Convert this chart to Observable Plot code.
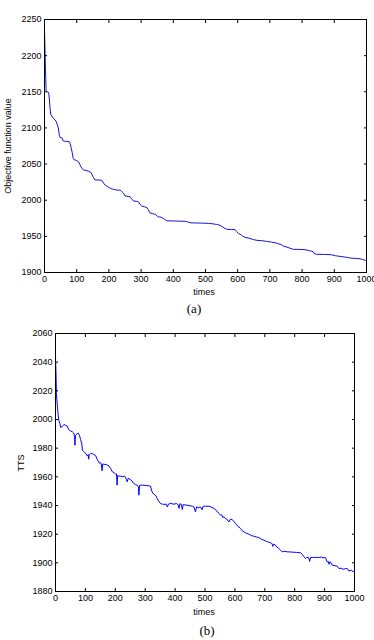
<!DOCTYPE html>
<html>
<head>
<meta charset="utf-8">
<script src="https://cdn.jsdelivr.net/npm/d3@7"></script>
<script src="https://cdn.jsdelivr.net/npm/@observablehq/plot@0.6"></script>
<style>
  html, body { margin: 0; padding: 0; background: #fff; }
  #page { position: relative; width: 374px; height: 640px; overflow: hidden; background: #fff; font-family: "Liberation Sans", Arial, sans-serif; }
  .chart { position: absolute; left: 0; }
  .lbl { position: absolute; font-size: 9px; color: #000; white-space: nowrap; transform: translate(-50%, -50%); }
  .ylbl { position: absolute; font-size: 9px; color: #000; white-space: nowrap; transform: translate(-50%, -50%) rotate(-90deg); }
  .cap { position: absolute; font-family: "Liberation Serif", "Times New Roman", serif; font-size: 13px; color: #000; transform: translate(-50%, -50%); }
</style>
</head>
<body>
<div id="page">
  <div class="chart" id="chartA" style="top:0px"></div>
  <div class="chart" id="chartB" style="top:314px"></div>
  <div class="ylbl" style="left:8px; top:146px">Objective function value</div>
  <div class="lbl" style="left:204px; top:292px">times</div>
  <div class="cap" style="left:194px; top:309px">(a)</div>
  <div class="ylbl" style="left:21px; top:463px">TTS</div>
  <div class="lbl" style="left:204px; top:612px">times</div>
  <div class="cap" style="left:207px; top:631px">(b)</div>
</div>
<script>
// ---- Data ----
const xTicks = [0, 100, 200, 300, 400, 500, 600, 700, 800, 900, 1000];
const objTicks = [1900, 1950, 2000, 2050, 2100, 2150, 2200, 2250];
const ttsTicks = [1880, 1900, 1920, 1940, 1960, 1980, 2000, 2020, 2040, 2060];

// (a) Objective function value vs times
const objT = [0, 2, 3, 5, 8, 13, 15, 17, 20, 25, 28, 33, 36, 40, 43, 46, 48, 55, 58, 65, 77, 80, 83, 86, 89, 92, 100, 106, 110, 116, 121, 135, 145, 150, 157, 170, 178, 183, 188, 195, 205, 214, 225, 235, 240, 245, 250, 262, 266, 272, 276, 285, 292, 297, 302, 310, 318, 322, 328, 335, 344, 350, 354, 362, 370, 376, 380, 400, 420, 437, 445, 452, 470, 490, 509, 520, 535, 545, 552, 558, 566, 580, 592, 597, 602, 610, 615, 623, 635, 649, 660, 675, 690, 705, 721, 728, 735, 742, 750, 760, 773, 790, 809, 820, 830, 835, 838, 845, 870, 892, 903, 915, 934, 945, 949, 965, 980, 988, 996, 1000];
const objV = [2236, 2200, 2182, 2152, 2150, 2149, 2140, 2128, 2118, 2115, 2113, 2111, 2109, 2104, 2100, 2090, 2087, 2086, 2082, 2081.5, 2081, 2078, 2072, 2066, 2058, 2056, 2055, 2053, 2049, 2044, 2042, 2040.5, 2038, 2033, 2028, 2028, 2027.5, 2024, 2021, 2019, 2016.5, 2015, 2014, 2013.9, 2012, 2010, 2006, 2005, 2004.6, 2001, 1999, 1998.5, 1997.7, 1994, 1992, 1991, 1989.8, 1987, 1982.4, 1981.5, 1980.6, 1978, 1977, 1976.5, 1974.5, 1972.5, 1971.5, 1971.3, 1971, 1970.8, 1970, 1968.8, 1968.5, 1968.3, 1968, 1967.5, 1966.5, 1965.3, 1963.5, 1961.5, 1959.8, 1959.5, 1959.3, 1956.5, 1954, 1952.5, 1950.5, 1948.5, 1947.5, 1945.5, 1944.5, 1944, 1943, 1942, 1940.7, 1939.5, 1938.5, 1936.5, 1935.5, 1934, 1932, 1932, 1931.5, 1930.5, 1929.5, 1928.5, 1926, 1925.2, 1925, 1924.5, 1923.2, 1922.5, 1921.3, 1920.5, 1920, 1919.5, 1919, 1918, 1916.8, 1916.5];

// (b) TTS vs times
const ttsT = [0, 2, 3, 6, 8, 11, 15, 17, 22, 28, 33, 39, 44, 50, 56, 61, 64, 65, 67, 72, 76, 80, 84, 88, 90, 95, 100, 106, 109, 111, 113, 117, 125, 130, 134, 139, 143, 147, 150, 153, 156, 158, 162, 170, 178, 184, 190, 195, 201, 204, 206, 208, 212, 217, 225, 230, 234, 237, 240, 243, 251, 256, 262, 268, 273, 277, 279, 281, 290, 300, 310, 318, 320, 323, 328, 334, 338, 340, 345, 351, 357, 362, 370, 374, 378, 385, 396, 405, 410, 413, 416, 421, 424, 427, 430, 440, 450, 458, 463, 468, 472, 478, 485, 490, 494, 502, 513, 520, 530, 536, 541, 547, 552, 556, 560, 563, 568, 574, 580, 585, 591, 596, 602, 610, 619, 624, 630, 635, 640, 647, 655, 663, 672, 680, 688, 697, 705, 712, 719, 724, 727, 730, 736, 740, 744, 747, 752, 758, 765, 775, 790, 805, 820, 825, 830, 836, 840, 847, 850, 853, 859, 870, 880, 890, 895, 903, 906, 909, 912, 915, 918, 920, 925, 935, 942, 948, 955, 962, 970, 976, 981, 990, 995, 1000];
const ttsV = [2044, 2030, 2018, 2010, 2005, 1999.5, 1997, 1994.5, 1995, 1996.5, 1996, 1995.5, 1993, 1992, 1991.5, 1990.5, 1988, 1982, 1989, 1990, 1990.5, 1989, 1986, 1983, 1978.5, 1977.7, 1976.5, 1974.7, 1975.5, 1972.3, 1975.5, 1976.3, 1976, 1975.3, 1975, 1972.3, 1971, 1969.5, 1970, 1969, 1964.2, 1969, 1968.8, 1968.5, 1967.7, 1966, 1963.5, 1963, 1961.9, 1962, 1954.2, 1961, 1960.5, 1960.5, 1960, 1960.5, 1960, 1958, 1956.5, 1959, 1958, 1957, 1955.3, 1954.5, 1954.2, 1953, 1947.2, 1954, 1954.2, 1954, 1953.8, 1953.5, 1951.5, 1949.5, 1948, 1947.2, 1946, 1944.9, 1943, 1941.4, 1941, 1940.7, 1941, 1939, 1941, 1941.5, 1940.9, 1941.4, 1940.5, 1938, 1941.2, 1940.8, 1937.2, 1940.6, 1940.5, 1940.2, 1939.8, 1939.5, 1939, 1935.6, 1939, 1938.5, 1939, 1937, 1939.5, 1939.5, 1939.5, 1939, 1937.9, 1937, 1935.6, 1934.5, 1933.3, 1933.5, 1931.5, 1932.1, 1931, 1930.2, 1928.5, 1930.5, 1930.2, 1929, 1927.4, 1925.5, 1924, 1922.5, 1921.6, 1921, 1920.5, 1920, 1919, 1918.6, 1918, 1917.7, 1916.5, 1915.8, 1915, 1914.5, 1914, 1913.5, 1911.5, 1913, 1912.3, 1911, 1910.5, 1910, 1909, 1907.7, 1908, 1907.7, 1907.5, 1907.3, 1907, 1906, 1904.5, 1903, 1903.8, 1903.5, 1901, 1903.7, 1903.7, 1903.8, 1903.7, 1904, 1903.5, 1903.7, 1902, 1900.7, 1901, 1899, 1900.8, 1900.5, 1898.4, 1898, 1897.7, 1896, 1896.3, 1895.5, 1896, 1896, 1894.4, 1894.8, 1893.8, 1894.5];

function makeChart({t, v, yDomain, yTicks, color, height, marginLeft, marginRight}) {
  const data = t.map((d, i) => ({t: d, v: v[i]}));
  return Plot.plot({
    width: 374,
    height,
    marginTop: 19,
    marginBottom: 28,
    marginLeft,
    marginRight,
    style: {fontFamily: "'Liberation Sans', Arial, sans-serif", fontSize: "9px", background: "transparent", color: "black", overflow: "visible"},
    x: {domain: [0, 1000]},
    y: {domain: yDomain},
    marks: [
      Plot.line(data, {x: "t", y: "v", stroke: color, strokeWidth: 1}),
      Plot.frame({stroke: "black", strokeWidth: 1}),
      // tick labels
      Plot.axisX({anchor: "bottom", ticks: xTicks, tickSize: 0, tickPadding: 3, tickFormat: "d", label: null}),
      Plot.axisY({anchor: "left", ticks: yTicks, tickSize: 0, tickPadding: 3, tickFormat: "d", label: null}),
      // inward ticks on all four sides
      Plot.axisX({anchor: "bottom", ticks: xTicks, tickSize: 3, insetBottom: 3, fill: "none", label: null}),
      Plot.axisX({anchor: "top", ticks: xTicks, tickSize: 3, insetTop: 3, fill: "none", label: null}),
      Plot.axisY({anchor: "left", ticks: yTicks, tickSize: 3, insetLeft: 3, fill: "none", label: null}),
      Plot.axisY({anchor: "right", ticks: yTicks, tickSize: 3, insetRight: 3, fill: "none", label: null})
    ]
  });
}

document.getElementById("chartA").append(makeChart({
  t: objT, v: objV, yDomain: [1900, 2250], yTicks: objTicks, color: "#1414d8",
  height: 300, marginLeft: 44, marginRight: 8
}));
document.getElementById("chartB").append(makeChart({
  t: ttsT, v: ttsV, yDomain: [1880, 2060], yTicks: ttsTicks, color: "#0000ff",
  height: 305, marginLeft: 55, marginRight: 20
}));
</script>
</body>
</html>
